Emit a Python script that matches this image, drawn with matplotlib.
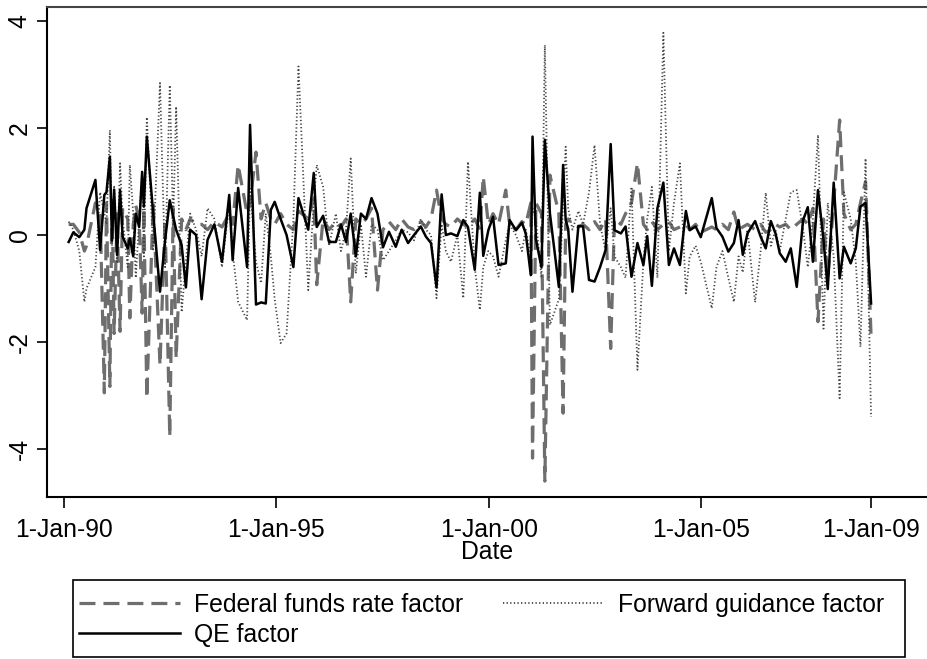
import matplotlib
matplotlib.use("Agg")
import matplotlib.pyplot as plt
from matplotlib.patches import Rectangle

plt.rcParams['font.family'] = ['Liberation Sans', 'DejaVu Sans']

# Dates as decimal years
dates = [
    1990.11, 1990.22, 1990.36, 1990.48, 1990.53, 1990.74, 1990.85, 1990.95, 1991.00, 1991.08,
    1991.13, 1991.18, 1991.25, 1991.32, 1991.38, 1991.50, 1991.55, 1991.63, 1991.69, 1991.77,
    1991.84, 1991.88, 1991.95, 1992.10, 1992.26, 1992.38, 1992.49, 1992.57, 1992.64, 1992.77, 1992.87,
    1992.97, 1993.11, 1993.24, 1993.38, 1993.54, 1993.72, 1993.89, 1993.97, 1994.10, 1994.31,
    1994.38, 1994.52, 1994.64, 1994.75, 1994.87, 1994.96, 1995.10, 1995.24, 1995.40, 1995.52,
    1995.75, 1995.88, 1995.95, 1996.10, 1996.24, 1996.40, 1996.52, 1996.64, 1996.75, 1996.87,
    1996.99, 1997.11, 1997.24, 1997.38, 1997.51, 1997.65, 1997.81, 1997.95, 1998.10, 1998.24,
    1998.40, 1998.52, 1998.64, 1998.77, 1998.89, 1998.99, 1999.11, 1999.26, 1999.40, 1999.51,
    1999.67, 1999.79, 1999.87, 1999.99, 2000.10, 2000.23, 2000.40, 2000.49, 2000.64, 2000.78,
    2000.87, 2000.99, 2001.03, 2001.11, 2001.24, 2001.32, 2001.44, 2001.65, 2001.75, 2001.81,
    2001.87, 2001.97, 2002.11, 2002.22, 2002.36, 2002.49, 2002.62, 2002.75, 2002.87, 2002.96,
    2003.11, 2003.22, 2003.36, 2003.50, 2003.64, 2003.73, 2003.84, 2003.97, 2004.11, 2004.24,
    2004.36, 2004.50, 2004.64, 2004.73, 2004.87, 2004.99, 2005.25, 2005.36, 2005.50, 2005.64,
    2005.77, 2005.88, 2005.98, 2006.09, 2006.27, 2006.40, 2006.52, 2006.64, 2006.75, 2006.85,
    2006.99, 2007.11, 2007.25, 2007.40, 2007.51, 2007.63, 2007.75, 2007.88, 2007.98, 2008.12,
    2008.26, 2008.36, 2008.52, 2008.64, 2008.75, 2008.87, 2009.00,
]

ffr = [
    0.20, 0.20, 0.05, -0.30, -0.20, 0.60, 0.45, -2.95, 0.60, -2.83,
    0.70, -1.84, 0.40, -1.80, 0.50, 0.30, -1.55, 0.20, 0.55, 0.30,
    -1.46, 0.50, -3.05, 0.60, -2.43, 0.30, -3.77, 0.50, -2.30, 0.30, 0.10,
    0.30, 0.20, 0.20, 0.10, 0.25, 0.15, 0.40, 0.20, 1.31, 0.40,
    0.60, 1.55, 0.30, 0.60, 0.30, 0.20, 0.40, 0.20, 0.10, 0.45,
    0.30, 0.68, -0.93, 0.30, 0.10, 0.25, 0.15, 0.30, -1.25, 0.30,
    0.20, 0.30, 0.50, -1.03, 0.10, 0.25, 0.10, 0.30, 0.15, 0.10,
    0.25, 0.15, 0.30, 0.84, 0.30, 0.20, 0.15, 0.30, 0.20, 0.15,
    0.30, 0.10, 1.09, 0.20, 0.40, 0.20, 0.84, 0.20, 0.10, 0.25,
    0.20, 0.60, -4.17, 0.60, 0.40, -4.60, 1.12, 0.40, -3.33, 0.20,
    0.30, 0.20, 0.15, 0.20, 0.10, 0.25, 0.10, 0.30, -2.12, 0.30,
    0.20, 0.40, 0.60, 1.34, 0.20, 0.10, 0.25, 0.10, 0.20, 0.25,
    0.10, 0.15, 0.20, 0.10, 0.20, 0.05, 0.15, 0.10, 0.20, 0.10,
    0.43, 0.10, 0.15, 0.20, 0.10, 0.20, 0.05, 0.10, 0.20, 0.15,
    0.20, 0.10, 0.20, 0.30, 0.20, 0.50, -1.62, 0.30, -0.80, 0.60,
    2.15, 0.40, 0.10, 0.20, 0.60, 1.00, -1.90,
]

fg = [
    0.25, 0.10, -0.30, -1.25, -1.00, -0.60, 0.80, 0.40, 0.20, 1.96,
    -0.20, 0.90, -0.50, 1.34, 0.30, -0.60, 1.31, 0.40, -0.80, 0.30,
    1.20, -0.40, 2.20, -0.30, 2.84, -0.60, 2.80, 0.20, 2.40, -1.44, -0.50,
    0.40, 0.10, -0.40, 0.50, 0.30, -0.60, 0.60, -0.30, -1.25, -1.59,
    0.90, -0.50, -0.90, 0.40, -0.40, -1.20, -2.02, -1.84, 0.30, 3.15,
    -1.03, 0.60, 1.31, 0.90, -0.20, 0.40, -0.30, 0.10, 1.43, -0.72,
    0.20, -0.78, 0.20, 0.10, -0.47, -0.30, -0.10, 0.10, 0.05, -0.10,
    0.30, 0.10, 0.00, -1.18, 0.20, -0.30, -0.50, 0.00, -1.18, 1.37,
    -0.60, -1.40, -0.60, -0.30, -0.40, -0.78, -0.10, 0.20, 0.00, -0.30,
    0.10, -0.40, 0.50, 0.30, -0.80, 3.55, -1.68, -1.20, 0.60, 1.65,
    0.50, 0.10, 0.45, 0.20, 0.80, 1.68, 0.20, -0.30, 0.50, -0.40,
    -0.60, -0.80, 0.90, -2.52, -0.50, 0.30, 0.90, -0.80, 3.78, -0.30,
    0.60, 1.34, -1.09, -0.40, -0.20, -0.50, -1.37, -0.60, -0.30, -0.80,
    -1.25, -0.40, -0.70, 0.10, -1.26, -0.30, 0.79, -0.20, 0.10, -0.30,
    0.30, 0.80, 0.84, 0.10, -0.60, 0.30, 1.87, -1.75, 0.60, -0.40,
    -3.05, 0.80, 0.30, -0.50, -2.09, 1.43, -3.40,
]

qe = [
    -0.13, 0.05, -0.04, 0.10, 0.50, 1.03, -0.28, 0.75, 0.80, 1.46,
    -0.10, 0.85, -0.37, 0.84, -0.03, -0.25, -0.06, -0.40, 0.40, 0.15,
    1.18, 0.53, 1.84, 0.40, -1.06, -0.10, 0.65, 0.35, 0.10, -0.19, -0.98,
    0.10, 0.00, -1.20, -0.09, 0.20, -0.50, 0.75, -0.47, 0.88, -0.60,
    2.06, -1.30, -1.26, -1.28, 0.47, 0.62, 0.30, 0.00, -0.60, 0.69,
    0.10, 1.16, 0.15, 0.36, -0.13, -0.13, 0.20, -0.13, 0.40, -0.40,
    0.40, 0.30, 0.69, 0.40, -0.23, 0.06, -0.22, 0.10, -0.15, 0.00,
    0.16, -0.03, -0.15, -0.98, 0.76, 0.00, 0.03, -0.02, 0.28, 0.15,
    -0.65, 0.79, -0.39, 0.09, 0.34, -0.56, -0.53, 0.28, 0.09, 0.23,
    0.03, -0.75, 1.84, -0.08, -0.60, 1.78, 0.40, -0.97, 1.31, 0.28,
    0.11, -1.06, 0.17, 0.16, -0.84, -0.87, -0.60, -0.28, 1.70, 0.09,
    0.03, 0.16, -0.78, -0.15, -0.56, -0.02, -0.95, 0.50, 0.98, -0.56,
    -0.25, -0.56, 0.45, 0.09, 0.16, -0.04, 0.69, 0.13, -0.03, -0.31,
    -0.15, 0.28, -0.37, 0.03, 0.26, -0.03, -0.25, 0.26, 0.03, -0.34,
    -0.50, -0.25, -0.97, 0.28, 0.52, -0.50, 0.84, -0.09, -1.01, 0.98,
    -0.81, -0.22, -0.53, -0.25, 0.53, 0.60, -1.28,
]

tick_pos = [1990.0, 1995.0, 2000.0, 2005.0, 2009.0]
tick_labels = ["1-Jan-90", "1-Jan-95", "1-Jan-00", "1-Jan-05", "1-Jan-09"]
ytick_pos = [-4, -2, 0, 2, 4]

FS = 17.8
W, H = 928, 659
fig = plt.figure(figsize=(W / 100, H / 100), dpi=100)
ax = fig.add_axes([47 / W, 1 - 497 / H, 1 - 47 / W, (497 - 7) / H])

l_ffr, = ax.plot(dates, ffr, color='#6e6e6e', lw=2.3, dashes=(5, 2.5))
l_fg, = ax.plot(dates, fg, color='#444444', lw=1.3, dashes=(0.7, 1.3))
l_qe, = ax.plot(dates, qe, color='black', lw=1.8)

ax.set_xlim(1989.60, 2010.34)
ax.set_ylim(-4.897, 4.262)
ax.set_xticks(tick_pos)
ax.set_xticklabels(tick_labels, fontsize=FS)
ax.set_yticks(ytick_pos)
ax.set_yticklabels([str(v) for v in ytick_pos], fontsize=FS, rotation=90, va='center')
ax.tick_params(axis='x', length=8, width=1.2, pad=7)
ax.tick_params(axis='y', length=7, width=1.2, pad=4)
ax.spines['right'].set_visible(False)
for s in ['left', 'bottom']:
    ax.spines[s].set_linewidth(1.5)
ax.spines['top'].set_linewidth(1.5)
ax.spines['top'].set_color('#444444')
ax.set_xlabel('Date', fontsize=FS, labelpad=-1)

# Legend box
fig.patches.append(Rectangle((73 / W, 1 - 657 / H), (905 - 73) / W, (657 - 580) / H,
                             transform=fig.transFigure, fill=False, edgecolor='black', lw=1.2))
leg = fig.legend([l_ffr, l_qe, l_fg],
                 ['Federal funds rate factor', 'QE factor', 'Forward guidance factor'],
                 ncol=2, loc='center left',
                 bbox_to_anchor=(79 / W, 1 - 620 / H),
                 fontsize=FS, frameon=False, handlelength=4.1,
                 handletextpad=0.55, columnspacing=1.6, borderaxespad=0,
                 labelspacing=0.25, borderpad=0)

fig.savefig('out.png', dpi=100)
